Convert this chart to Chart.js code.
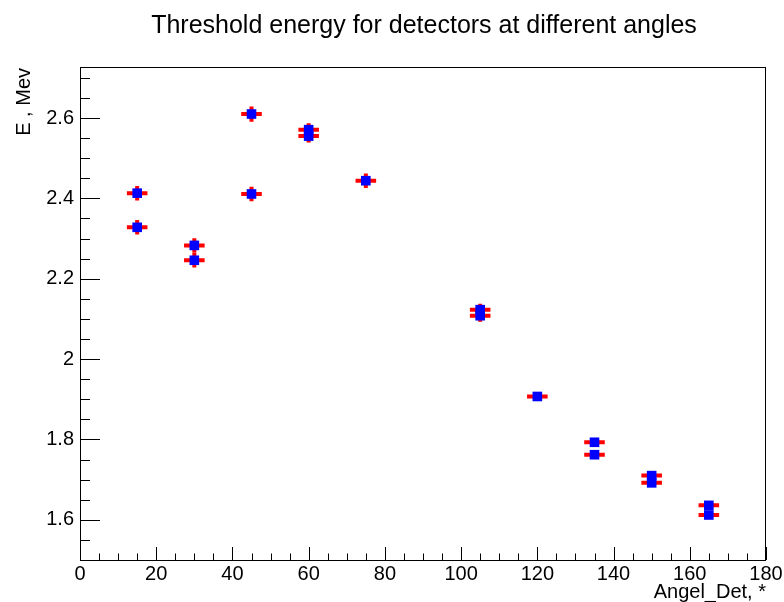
<!DOCTYPE html>
<html>
<head>
<meta charset="utf-8">
<title>Threshold energy for detectors at different angles</title>
<script src="https://cdn.jsdelivr.net/npm/chart.js@4.4.1/dist/chart.umd.min.js"></script>
<style>
  html, body { margin: 0; padding: 0; background: #fff; }
  #wrap { width: 784px; height: 602px; }
</style>
</head>
<body>
<div id="wrap"><canvas id="thresholdChart" width="784" height="602"></canvas></div>
<script>
// detector angle (deg) and threshold energy (MeV)
const angles = [15, 15, 30, 30, 45, 45, 60, 60, 75, 105, 105, 120, 135, 135, 150, 150, 165, 165];
const energy = [2.413, 2.328, 2.283, 2.246, 2.610, 2.411, 2.571, 2.555, 2.444, 2.123, 2.108, 1.907, 1.793, 1.762, 1.710, 1.692, 1.636, 1.612];
const angleErr = [2.7, 2.7, 2.7, 2.7, 2.7, 2.7, 2.7, 2.7, 2.7, 2.7, 2.7, 2.7, 2.7, 2.7, 2.7, 2.7, 2.7, 2.7];
const energyErr = [0.018, 0.018, 0.018, 0.018, 0.019, 0.018, 0.016, 0.016, 0.018, 0.015, 0.015, 0.01, 0.008, 0.008, 0.008, 0.008, 0.008, 0.008];

const xTickLabels = [0, 20, 40, 60, 80, 100, 120, 140, 160, 180];
const yTickLabels = [1.6, 1.8, 2.0, 2.2, 2.4, 2.6];
const xMinorStep = 5;
const yMinorStep = 0.05;

const FONT = "'Liberation Sans', Arial, Helvetica, sans-serif";

const points = angles.map((a, i) => ({ x: a, y: energy[i] }));

// red error bars, drawn under the markers
const errorBars = {
    id: "errorBars",
    beforeDatasetsDraw(chart) {
        const { ctx, scales } = chart;
        const xs = scales.x, ys = scales.y;
        ctx.save();
        ctx.strokeStyle = "#ff0000";
        ctx.lineWidth = 4;
        ctx.lineCap = "butt";
        angles.forEach((a, i) => {
            const px = xs.getPixelForValue(a);
            const py = ys.getPixelForValue(energy[i]);
            ctx.beginPath();
            ctx.moveTo(xs.getPixelForValue(a - angleErr[i]), py);
            ctx.lineTo(xs.getPixelForValue(a + angleErr[i]), py);
            ctx.moveTo(px, ys.getPixelForValue(energy[i] - energyErr[i]));
            ctx.lineTo(px, ys.getPixelForValue(energy[i] + energyErr[i]));
            ctx.stroke();
        });
        ctx.restore();
    },
};

// ROOT-like frame, inward ticks and titles
const frameAndTitles = {
    id: "frameAndTitles",
    afterDraw(chart) {
        const { ctx, chartArea: ca, scales } = chart;
        const xs = scales.x, ys = scales.y;
        ctx.save();
        ctx.strokeStyle = "#000";
        ctx.lineWidth = 1;
        ctx.strokeRect(ca.left + 0.5, ca.top + 0.5, ca.right - ca.left - 1, ca.bottom - ca.top);

        ctx.beginPath();
        for (let v = xs.min; v <= xs.max + 1e-9; v += xMinorStep) {
            const major = xTickLabels.some(t => Math.abs(t - v) < 1e-6);
            const px = Math.round(xs.getPixelForValue(v)) + 0.5;
            ctx.moveTo(px, ca.bottom);
            ctx.lineTo(px, ca.bottom - (major ? 13 : 6.5));
        }
        const yStart = Math.ceil(ys.min / yMinorStep) * yMinorStep;
        for (let v = yStart; v <= ys.max + 1e-9; v += yMinorStep) {
            const major = yTickLabels.some(t => Math.abs(t - v) < 1e-6);
            const py = Math.round(ys.getPixelForValue(v)) + 0.5;
            ctx.moveTo(ca.left, py);
            ctx.lineTo(ca.left + (major ? 20 : 10), py);
        }
        ctx.stroke();

        ctx.fillStyle = "#000";
        ctx.font = "25px " + FONT;
        ctx.textAlign = "center";
        ctx.textBaseline = "alphabetic";
        ctx.fillText("Threshold energy for detectors at different angles", 424, 33);

        ctx.font = "20px " + FONT;
        ctx.textAlign = "right";
        ctx.fillText("Angel_Det, *", ca.right, 598);

        ctx.translate(30, ca.top + 1);
        ctx.rotate(-Math.PI / 2);
        ctx.textAlign = "right";
        ctx.fillText("E , Mev", 0, 0);
        ctx.restore();
    },
};

const ctx = document.getElementById("thresholdChart").getContext("2d");
new Chart(ctx, {
    type: "scatter",
    data: {
        datasets: [{
            data: points,
            pointStyle: "rect",
            pointRadius: 6.8,
            pointHoverRadius: 6.8,
            backgroundColor: "#0000ff",
            borderWidth: 0,
        }],
    },
    options: {
        responsive: false,
        animation: false,
        events: [],
        layout: { padding: { top: 67, right: 18, left: 0, bottom: 0 } },
        plugins: {
            legend: { display: false },
            tooltip: { enabled: false },
            title: { display: false },
        },
        scales: {
            x: {
                type: "linear",
                min: 0,
                max: 180,
                grid: { display: false },
                border: { display: false },
                afterFit(scale) { scale.height = 42; },
                afterBuildTicks(scale) { scale.ticks = xTickLabels.map(v => ({ value: v })); },
                ticks: {
                    padding: -6,
                    maxRotation: 0,
                    autoSkip: false,
                    color: "#000",
                    font: { family: FONT, size: 20 },
                    callback: v => String(v),
                },
            },
            y: {
                type: "linear",
                min: 1.5,
                max: 2.727,
                grid: { display: false },
                border: { display: false },
                afterFit(scale) { scale.width = 80; },
                afterBuildTicks(scale) { scale.ticks = yTickLabels.map(v => ({ value: v })); },
                ticks: {
                    padding: -2,
                    autoSkip: false,
                    color: "#000",
                    font: { family: FONT, size: 20 },
                    callback: v => String(+Number(v).toFixed(1)),
                },
            },
        },
    },
    plugins: [errorBars, frameAndTitles],
});
</script>
</body>
</html>
